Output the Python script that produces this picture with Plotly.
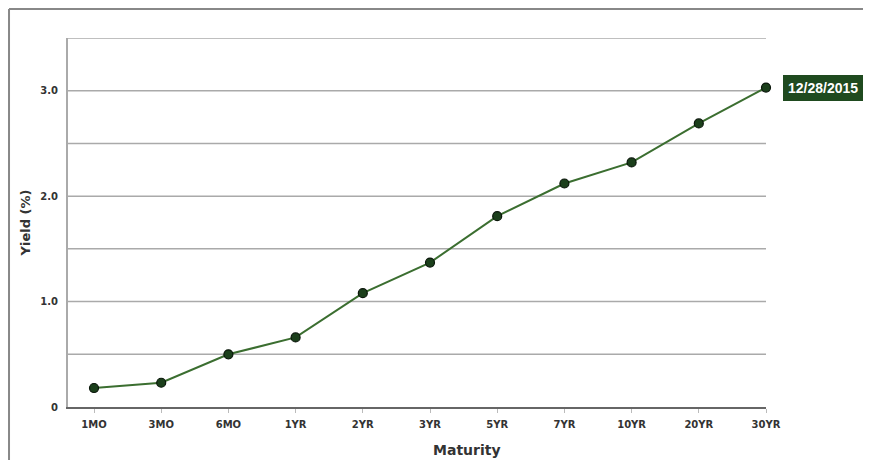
import plotly.graph_objects as go

maturities = ["1MO", "3MO", "6MO", "1YR", "2YR", "3YR", "5YR", "7YR", "10YR", "20YR", "30YR"]
yields = [0.18, 0.23, 0.50, 0.66, 1.08, 1.37, 1.81, 2.12, 2.32, 2.69, 3.03]
date_label = "12/28/2015"
y_tick_vals = [0, 1.0, 2.0, 3.0]
y_tick_text = ["0", "1.0", "2.0", "3.0"]
grid_levels = [0.5, 1.0, 1.5, 2.0, 2.5, 3.0, 3.5]

xi = list(range(len(maturities)))

fig = go.Figure()
fig.add_trace(go.Scatter(
    x=xi, y=yields, mode="lines+markers",
    line=dict(color="#3b6e30", width=2),
    marker=dict(size=9, color="#1b3f1b", line=dict(color="#0a160a", width=1.2)),
    cliponaxis=False, showlegend=False,
))

font = "DejaVu Sans, Verdana, sans-serif"
label_font = "Liberation Sans, Arial, sans-serif"

fig.update_layout(
    width=871, height=460,
    margin=dict(l=60, r=113, t=30, b=61),
    paper_bgcolor="white", plot_bgcolor="white",
    font=dict(family=font, color="#333333"),
    xaxis=dict(
        range=[-0.387, 10], tickmode="array", tickvals=xi, ticktext=maturities,
        showgrid=False, zeroline=False,
        showline=True, linecolor="#666666", linewidth=2,
        ticks="outside", ticklen=4, tickcolor="#bbbbbb", tickwidth=1,
        ticklabelstandoff=3,
        tickfont=dict(family=font, size=10, color="#333333", weight="bold"),
    ),
    yaxis=dict(
        range=[0, 3.5], tickmode="array", tickvals=y_tick_vals, ticktext=y_tick_text,
        showgrid=False, zeroline=False,
        showline=True, linecolor="#aaaaaa", linewidth=2,
        ticks="", ticklabelstandoff=6,
        tickfont=dict(family=font, size=10, color="#333333", weight="bold"),
        title=dict(text="Yield (%)", font=dict(family=font, size=13, color="#333333", weight="bold"), standoff=7),
    ),
)

for g in grid_levels:
    fig.add_shape(type="line", xref="paper", yref="y", x0=0, x1=1, y0=g, y1=g,
                  line=dict(color="#aaaaaa", width=1.5), layer="below")

# x-axis title (centred over the whole chart, not the plot area)
fig.add_annotation(x=0.5716, y=0, xref="paper", yref="paper", yshift=-43, yanchor="middle",
                   text="Maturity", showarrow=False,
                   font=dict(family=font, size=14, color="#333333", weight="bold"))

# outer frame (left and top visible)
fig.add_shape(type="line", xref="paper", yref="paper", x0=-0.0845, x1=-0.0845, y0=1.0786, y1=-0.3,
              line=dict(color="#888888", width=2))
fig.add_shape(type="line", xref="paper", yref="paper", x0=-0.0845, x1=1.3, y0=1.0786, y1=1.0786,
              line=dict(color="#888888", width=2))

# date label with pointer
last_x = xi[-1]
last_y = yields[-1]
fig.add_shape(type="path", xref="x", yref="y", xsizemode="pixel", ysizemode="pixel",
              xanchor=last_x, yanchor=last_y,
              path="M 11 0 L 18 -7 L 18 7 Z", fillcolor="#1f4a1f", line=dict(color="#1f4a1f", width=1))
fig.add_annotation(x=last_x, y=last_y, xref="x", yref="y", text=date_label, showarrow=False,
                   xanchor="left", xshift=17, bgcolor="#1f4a1f", bordercolor="#1f4a1f",
                   borderpad=4, font=dict(family=label_font, size=14, color="white", weight="bold"))

fig.write_html("out.html")
